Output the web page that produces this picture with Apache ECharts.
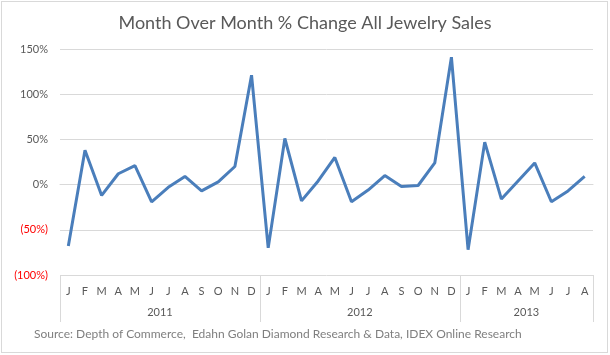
<!DOCTYPE html>
<html>
<head>
<meta charset="utf-8">
<script src="https://cdn.jsdelivr.net/npm/echarts@6/dist/echarts.min.js"></script>
<style>
html,body{margin:0;padding:0;background:#fff;}
#frame{position:absolute;left:1px;top:1px;width:605px;height:350px;border:1px solid #d9d9d9;}
#chart{position:absolute;left:0;top:0;width:610px;height:355px;}
</style>
</head>
<body>
<div id="frame"></div>
<div id="chart"></div>
<script>
const titleText = 'Month Over Month % Change All Jewelry Sales';
const sourceText = 'Source: Depth of Commerce,  Edahn Golan Diamond Research & Data, IDEX Online Research';
const months = ['J','F','M','A','M','J','J','A','S','O','N','D',
                'J','F','M','A','M','J','J','A','S','O','N','D',
                'J','F','M','A','M','J','J','A'];
const years = ['2011','2012','2013'];
const yearStarts = [0, 12, 24, 32];
const changePct = [-68, 38, -12, 12, 21, -19, -3, 9, -7, 3, 20, 121,
                   -70, 51, -18, 4, 30, -19, -6, 10, -2, -1, 24, 141,
                   -72, 47, -16, 4, 24, -19, -7, 9];

const FONT = 'Lato, "Open Sans", sans-serif';
const yearCenters = years.map((y, i) => (yearStarts[i] + yearStarts[i + 1]) / 2);

const chart = echarts.init(document.getElementById('chart'), null, {renderer: 'canvas'});
chart.setOption({
  animation: false,
  textStyle: {fontFamily: FONT},
  title: {
    text: titleText, left: 'center', top: 9,
    textStyle: {fontFamily: FONT, fontSize: 18, fontWeight: 'normal', color: '#595959'}
  },
  graphic: [{
    type: 'text', left: 34, top: 328,
    style: {text: sourceText, fontFamily: FONT, fontSize: 12, fill: '#7f7f7f'}
  }],
  grid: {left: 60, right: 17, top: 49, bottom: 80, containLabel: false},
  xAxis: [{
    type: 'category', data: months, boundaryGap: true,
    axisLine: {show: true, lineStyle: {color: '#d9d9d9', width: 1}},
    axisTick: {show: false},
    axisLabel: {interval: 0, color: '#595959', fontSize: 11, margin: 11, fontFamily: FONT},
    splitLine: {show: false}
  }, {
    type: 'value', position: 'bottom', offset: 47, min: 0, max: 32,
    axisLine: {show: false},
    axisTick: {show: true, inside: true, length: 47, customValues: yearStarts,
               lineStyle: {color: '#d9d9d9', width: 1}},
    axisLabel: {show: true, inside: true, margin: 4, customValues: yearCenters,
                formatter: v => years[yearCenters.indexOf(v)],
                color: '#595959', fontSize: 11, fontFamily: FONT},
    splitLine: {show: false}
  }],
  yAxis: {
    type: 'value', min: -100, max: 150, interval: 50,
    axisLine: {show: false}, axisTick: {show: false},
    splitLine: {lineStyle: {color: '#d9d9d9', width: 1}},
    axisLabel: {
      margin: 12, fontSize: 11, fontFamily: FONT, color: '#595959',
      formatter: v => v < 0 ? '{neg|(' + Math.abs(v) + '%)}' : v + '%',
      rich: {neg: {color: '#ff0000', fontSize: 11, fontFamily: FONT}}
    }
  },
  series: [{
    type: 'line', data: changePct, xAxisIndex: 0, showSymbol: false, symbol: 'none',
    lineStyle: {color: '#4a7ebb', width: 3}, itemStyle: {color: '#4a7ebb'}
  }]
});
</script>
</body>
</html>
